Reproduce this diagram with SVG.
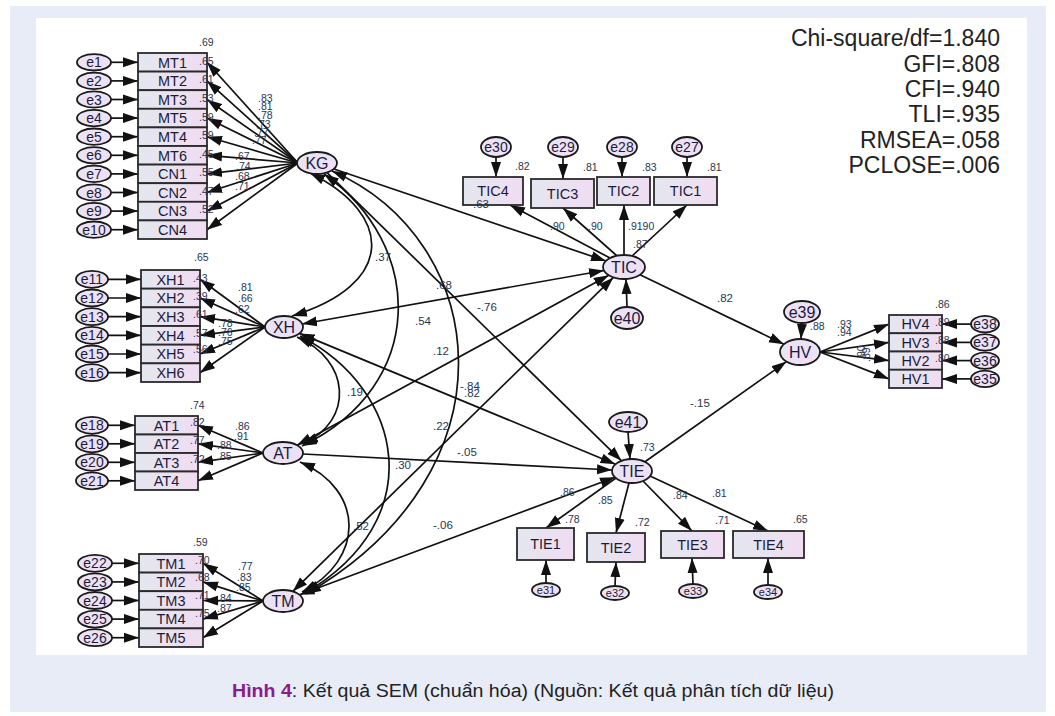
<svg xmlns="http://www.w3.org/2000/svg" width="1055" height="716" viewBox="0 0 1055 716">
<defs>
<linearGradient id="gb" x1="0" y1="0" x2="1" y2="0"><stop offset="0" stop-color="#e4e7ef"/><stop offset="1" stop-color="#f0dcf2"/></linearGradient>
<linearGradient id="ge" x1="0" y1="0" x2="1" y2="1"><stop offset="0" stop-color="#e8e4f4"/><stop offset="1" stop-color="#f1dff4"/></linearGradient>
<marker id="ah" markerUnits="userSpaceOnUse" markerWidth="16" markerHeight="11" refX="15" refY="5.5" orient="auto-start-reverse"><path d="M0,0.5 L15,5.5 L0,10.5 z" fill="#111"/></marker>
<style>
.bx{fill:url(#gb);stroke:#2a2a2a;stroke-width:1.8}
.el{fill:url(#ge);stroke:#1a1a1a;stroke-width:1.8}
.a{stroke:#111;stroke-width:1.7;fill:none;marker-end:url(#ah)}
.d{stroke:#111;stroke-width:1.7;fill:none;marker-start:url(#ah);marker-end:url(#ah)}
text{font-family:"Liberation Sans",Arial,sans-serif}
.t{fill:#1c1c3a;text-anchor:middle;font-size:14.5px}
.lt{fill:#1c1c3a;text-anchor:middle;font-size:16px}
.et{fill:#1c1c3a;text-anchor:middle;font-size:14px}
.es{fill:#1c1c3a;text-anchor:middle;font-size:11px}
.n{fill:#2a3550;font-size:10.5px}
.p{fill:#2a3550;font-size:11.5px}
.fit{fill:#222;font-size:23px;text-anchor:end}
</style>
</defs>
<rect width="1055" height="716" fill="#fff"/>
<rect x="10" y="6" width="1036" height="706" fill="#e8ecf7"/>
<rect x="36" y="18" width="991" height="637" fill="#fff"/>

<g id="connectors">
<line class="a" x1="111" y1="62.3" x2="138" y2="62.3"/>
<line class="a" x1="111" y1="80.9" x2="138" y2="80.9"/>
<line class="a" x1="111" y1="99.5" x2="138" y2="99.5"/>
<line class="a" x1="111" y1="118.1" x2="138" y2="118.1"/>
<line class="a" x1="111" y1="136.7" x2="138" y2="136.7"/>
<line class="a" x1="111" y1="155.3" x2="138" y2="155.3"/>
<line class="a" x1="111" y1="173.9" x2="138" y2="173.9"/>
<line class="a" x1="111" y1="192.5" x2="138" y2="192.5"/>
<line class="a" x1="111" y1="211.1" x2="138" y2="211.1"/>
<line class="a" x1="111" y1="229.7" x2="138" y2="229.7"/>
<line class="a" x1="298" y1="163" x2="207" y2="62.3"/>
<line class="a" x1="298" y1="163" x2="207" y2="80.9"/>
<line class="a" x1="298" y1="163" x2="207" y2="99.5"/>
<line class="a" x1="298" y1="163" x2="207" y2="118.1"/>
<line class="a" x1="298" y1="163" x2="207" y2="136.7"/>
<line class="a" x1="298" y1="163" x2="207" y2="155.3"/>
<line class="a" x1="298" y1="163" x2="207" y2="173.9"/>
<line class="a" x1="298" y1="163" x2="207" y2="192.5"/>
<line class="a" x1="298" y1="163" x2="207" y2="211.1"/>
<line class="a" x1="298" y1="163" x2="207" y2="229.7"/>
<line class="a" x1="108" y1="279.3" x2="141" y2="279.3"/>
<line class="a" x1="108" y1="298" x2="141" y2="298"/>
<line class="a" x1="108" y1="316.7" x2="141" y2="316.7"/>
<line class="a" x1="108" y1="335.3" x2="141" y2="335.3"/>
<line class="a" x1="108" y1="354" x2="141" y2="354"/>
<line class="a" x1="108" y1="372.7" x2="141" y2="372.7"/>
<line class="a" x1="265" y1="327" x2="200" y2="279.3"/>
<line class="a" x1="265" y1="327" x2="200" y2="298"/>
<line class="a" x1="265" y1="327" x2="200" y2="316.7"/>
<line class="a" x1="265" y1="327" x2="200" y2="335.3"/>
<line class="a" x1="265" y1="327" x2="200" y2="354"/>
<line class="a" x1="265" y1="327" x2="200" y2="372.7"/>
<line class="a" x1="108" y1="425.3" x2="135" y2="425.3"/>
<line class="a" x1="108" y1="443.8" x2="135" y2="443.8"/>
<line class="a" x1="108" y1="462.3" x2="135" y2="462.3"/>
<line class="a" x1="108" y1="480.8" x2="135" y2="480.8"/>
<line class="a" x1="263" y1="453" x2="198" y2="425.3"/>
<line class="a" x1="263" y1="453" x2="198" y2="443.8"/>
<line class="a" x1="263" y1="453" x2="198" y2="462.3"/>
<line class="a" x1="263" y1="453" x2="198" y2="480.8"/>
<line class="a" x1="112" y1="563.3" x2="139" y2="563.3"/>
<line class="a" x1="112" y1="581.9" x2="139" y2="581.9"/>
<line class="a" x1="112" y1="600.5" x2="139" y2="600.5"/>
<line class="a" x1="112" y1="619.1" x2="139" y2="619.1"/>
<line class="a" x1="112" y1="637.7" x2="139" y2="637.7"/>
<line class="a" x1="263" y1="601" x2="203" y2="563.3"/>
<line class="a" x1="263" y1="601" x2="203" y2="581.9"/>
<line class="a" x1="263" y1="601" x2="203" y2="600.5"/>
<line class="a" x1="263" y1="601" x2="203" y2="619.1"/>
<line class="a" x1="263" y1="601" x2="203" y2="637.7"/>
<line class="a" x1="496" y1="157" x2="496" y2="177"/>
<line class="a" x1="563" y1="157" x2="563" y2="179"/>
<line class="a" x1="622" y1="157" x2="622" y2="177"/>
<line class="a" x1="687" y1="157" x2="687" y2="177"/>
<line class="a" x1="610" y1="258" x2="510" y2="205"/>
<line class="a" x1="617" y1="256" x2="563" y2="208"/>
<line class="a" x1="624" y1="255" x2="624" y2="205"/>
<line class="a" x1="632" y1="256" x2="687" y2="205"/>
<line class="a" x1="627" y1="307" x2="626" y2="279"/>
<line class="a" x1="971" y1="324.1" x2="942" y2="324.1"/>
<line class="a" x1="971" y1="342.4" x2="942" y2="342.4"/>
<line class="a" x1="971" y1="360.6" x2="942" y2="360.6"/>
<line class="a" x1="971" y1="378.9" x2="942" y2="378.9"/>
<line class="a" x1="820" y1="352" x2="889" y2="324.1"/>
<line class="a" x1="820" y1="352" x2="889" y2="342.4"/>
<line class="a" x1="820" y1="352" x2="889" y2="360.6"/>
<line class="a" x1="820" y1="352" x2="889" y2="378.9"/>
<line class="a" x1="802" y1="323" x2="801" y2="339"/>
<line class="a" x1="546" y1="583" x2="546" y2="560"/>
<line class="a" x1="615" y1="586" x2="616" y2="562"/>
<line class="a" x1="693" y1="584" x2="692" y2="558"/>
<line class="a" x1="768" y1="585" x2="768" y2="558"/>
<line class="a" x1="616" y1="478" x2="546" y2="528"/>
<line class="a" x1="629" y1="483" x2="616" y2="533"/>
<line class="a" x1="643" y1="481" x2="692" y2="531"/>
<line class="a" x1="650" y1="476" x2="768" y2="531"/>
<line class="a" x1="628" y1="432" x2="630" y2="459"/>
<path class="d" d="M310,173 C395,215 395,285 292,316"/>
<path class="d" d="M324,174 C425,245 428,385 302,446"/>
<path class="d" d="M332,171 C490,240 520,470 306,594"/>
<path class="d" d="M297,337 C350,360 355,420 303,444"/>
<path class="d" d="M300,336 C405,390 430,520 305,593"/>
<path class="d" d="M300,462 C365,490 365,560 302,592"/>
<line class="a" x1="334" y1="169" x2="606" y2="261"/>
<line class="a" x1="327" y1="172.6" x2="621.5" y2="460.8"/>
<line class="d" x1="302" y1="324" x2="604" y2="270.5"/>
<line class="d" x1="299.5" y1="333.4" x2="615.5" y2="464.2"/>
<line class="d" x1="297" y1="445.3" x2="608.8" y2="275.3"/>
<line class="a" x1="303" y1="454" x2="612" y2="470"/>
<line class="d" x1="292.8" y1="591.4" x2="613.4" y2="277.4"/>
<line class="d" x1="299.6" y1="594.8" x2="615" y2="477.3"/>
<line class="a" x1="640" y1="274.7" x2="784" y2="344.2"/>
<line class="a" x1="645" y1="461.8" x2="786.5" y2="361.6"/>
</g>

<g id="KG-indicators">
<rect class="bx" x="138" y="53" width="69" height="18.6"/><text class="t" x="172.5" y="67.5">MT1</text>
<rect class="bx" x="138" y="71.6" width="69" height="18.6"/><text class="t" x="172.5" y="86.1">MT2</text>
<rect class="bx" x="138" y="90.2" width="69" height="18.6"/><text class="t" x="172.5" y="104.7">MT3</text>
<rect class="bx" x="138" y="108.8" width="69" height="18.6"/><text class="t" x="172.5" y="123.3">MT5</text>
<rect class="bx" x="138" y="127.4" width="69" height="18.6"/><text class="t" x="172.5" y="141.9">MT4</text>
<rect class="bx" x="138" y="146" width="69" height="18.6"/><text class="t" x="172.5" y="160.5">MT6</text>
<rect class="bx" x="138" y="164.6" width="69" height="18.6"/><text class="t" x="172.5" y="179.1">CN1</text>
<rect class="bx" x="138" y="183.2" width="69" height="18.6"/><text class="t" x="172.5" y="197.7">CN2</text>
<rect class="bx" x="138" y="201.8" width="69" height="18.6"/><text class="t" x="172.5" y="216.3">CN3</text>
<rect class="bx" x="138" y="220.4" width="69" height="18.6"/><text class="t" x="172.5" y="234.9">CN4</text>
<ellipse class="el" cx="94" cy="62.3" rx="17" ry="8.2"/><text class="et" x="94" y="67.3">e1</text>
<ellipse class="el" cx="94" cy="80.9" rx="17" ry="8.2"/><text class="et" x="94" y="85.9">e2</text>
<ellipse class="el" cx="94" cy="99.5" rx="17" ry="8.2"/><text class="et" x="94" y="104.5">e3</text>
<ellipse class="el" cx="94" cy="118.1" rx="17" ry="8.2"/><text class="et" x="94" y="123.1">e4</text>
<ellipse class="el" cx="94" cy="136.7" rx="17" ry="8.2"/><text class="et" x="94" y="141.7">e5</text>
<ellipse class="el" cx="94" cy="155.3" rx="17" ry="8.2"/><text class="et" x="94" y="160.3">e6</text>
<ellipse class="el" cx="94" cy="173.9" rx="17" ry="8.2"/><text class="et" x="94" y="178.9">e7</text>
<ellipse class="el" cx="94" cy="192.5" rx="17" ry="8.2"/><text class="et" x="94" y="197.5">e8</text>
<ellipse class="el" cx="94" cy="211.1" rx="17" ry="8.2"/><text class="et" x="94" y="216.1">e9</text>
<ellipse class="el" cx="94" cy="229.7" rx="17" ry="8.2"/><text class="et" x="94" y="234.7">e10</text>
</g>
<g id="KG"><ellipse class="el" cx="317" cy="163" rx="20" ry="11"/><text class="lt" x="317" y="168.5">KG</text></g>

<g id="XH-indicators">
<rect class="bx" x="141" y="270" width="59" height="18.67"/><text class="t" x="170.5" y="284.5">XH1</text>
<rect class="bx" x="141" y="288.67" width="59" height="18.67"/><text class="t" x="170.5" y="303.2">XH2</text>
<rect class="bx" x="141" y="307.33" width="59" height="18.67"/><text class="t" x="170.5" y="321.9">XH3</text>
<rect class="bx" x="141" y="326" width="59" height="18.67"/><text class="t" x="170.5" y="340.5">XH4</text>
<rect class="bx" x="141" y="344.67" width="59" height="18.67"/><text class="t" x="170.5" y="359.2">XH5</text>
<rect class="bx" x="141" y="363.33" width="59" height="18.67"/><text class="t" x="170.5" y="377.9">XH6</text>
<ellipse class="el" cx="92" cy="279.3" rx="16" ry="8.5"/><text class="et" x="92" y="284.3">e11</text>
<ellipse class="el" cx="92" cy="298" rx="16" ry="8.5"/><text class="et" x="92" y="303">e12</text>
<ellipse class="el" cx="92" cy="316.7" rx="16" ry="8.5"/><text class="et" x="92" y="321.7">e13</text>
<ellipse class="el" cx="92" cy="335.3" rx="16" ry="8.5"/><text class="et" x="92" y="340.3">e14</text>
<ellipse class="el" cx="92" cy="354" rx="16" ry="8.5"/><text class="et" x="92" y="359">e15</text>
<ellipse class="el" cx="92" cy="372.7" rx="16" ry="8.5"/><text class="et" x="92" y="377.7">e16</text>
</g>
<g id="XH"><ellipse class="el" cx="284" cy="327" rx="19" ry="11"/><text class="lt" x="284" y="332.5">XH</text></g>

<g id="AT-indicators">
<rect class="bx" x="135" y="416" width="63" height="18.5"/><text class="t" x="166.5" y="430.5">AT1</text>
<rect class="bx" x="135" y="434.5" width="63" height="18.5"/><text class="t" x="166.5" y="449">AT2</text>
<rect class="bx" x="135" y="453" width="63" height="18.5"/><text class="t" x="166.5" y="467.5">AT3</text>
<rect class="bx" x="135" y="471.5" width="63" height="18.5"/><text class="t" x="166.5" y="486">AT4</text>
<ellipse class="el" cx="92" cy="425.3" rx="16" ry="8.5"/><text class="et" x="92" y="430.3">e18</text>
<ellipse class="el" cx="92" cy="443.8" rx="16" ry="8.5"/><text class="et" x="92" y="448.8">e19</text>
<ellipse class="el" cx="92" cy="462.3" rx="16" ry="8.5"/><text class="et" x="92" y="467.3">e20</text>
<ellipse class="el" cx="92" cy="480.8" rx="16" ry="8.5"/><text class="et" x="92" y="485.8">e21</text>
</g>
<g id="AT"><ellipse class="el" cx="283" cy="453" rx="20" ry="11"/><text class="lt" x="283" y="458.5">AT</text></g>

<g id="TM-indicators">
<rect class="bx" x="139" y="554" width="64" height="18.6"/><text class="t" x="171" y="568.5">TM1</text>
<rect class="bx" x="139" y="572.6" width="64" height="18.6"/><text class="t" x="171" y="587.1">TM2</text>
<rect class="bx" x="139" y="591.2" width="64" height="18.6"/><text class="t" x="171" y="605.7">TM3</text>
<rect class="bx" x="139" y="609.8" width="64" height="18.6"/><text class="t" x="171" y="624.3">TM4</text>
<rect class="bx" x="139" y="628.4" width="64" height="18.6"/><text class="t" x="171" y="642.9">TM5</text>
<ellipse class="el" cx="95" cy="563.3" rx="17" ry="8.5"/><text class="et" x="95" y="568.3">e22</text>
<ellipse class="el" cx="95" cy="581.9" rx="17" ry="8.5"/><text class="et" x="95" y="586.9">e23</text>
<ellipse class="el" cx="95" cy="600.5" rx="17" ry="8.5"/><text class="et" x="95" y="605.5">e24</text>
<ellipse class="el" cx="95" cy="619.1" rx="17" ry="8.5"/><text class="et" x="95" y="624.1">e25</text>
<ellipse class="el" cx="95" cy="637.7" rx="17" ry="8.5"/><text class="et" x="95" y="642.7">e26</text>
</g>
<g id="TM"><ellipse class="el" cx="283" cy="601" rx="20" ry="11"/><text class="lt" x="283" y="606.5">TM</text></g>

<g id="TIC-indicators">
<rect class="bx" x="463" y="177" width="60" height="28"/><text class="t" x="493" y="196">TIC4</text>
<rect class="bx" x="531" y="179" width="63" height="29"/><text class="t" x="562.5" y="198.5">TIC3</text>
<rect class="bx" x="597" y="177" width="53" height="28"/><text class="t" x="623.5" y="196">TIC2</text>
<rect class="bx" x="654" y="177" width="63" height="28"/><text class="t" x="685.5" y="196">TIC1</text>
<ellipse class="el" cx="496" cy="147" rx="15" ry="10"/><text class="et" x="496" y="152">e30</text>
<ellipse class="el" cx="563" cy="147" rx="15" ry="10"/><text class="et" x="563" y="152">e29</text>
<ellipse class="el" cx="622" cy="147" rx="15" ry="10"/><text class="et" x="622" y="152">e28</text>
<ellipse class="el" cx="687" cy="147" rx="15" ry="10"/><text class="et" x="687" y="152">e27</text>
</g>
<g id="TIC"><ellipse class="el" cx="624" cy="267" rx="21" ry="12"/><text class="lt" x="624" y="272.5">TIC</text></g>
<g id="e40"><ellipse class="el" cx="627" cy="318" rx="16" ry="11"/><text class="lt" x="627" y="323.5">e40</text></g>

<g id="HV-indicators">
<rect class="bx" x="889" y="315" width="53" height="18.25"/><text class="t" x="915.5" y="329.3">HV4</text>
<rect class="bx" x="889" y="333.25" width="53" height="18.25"/><text class="t" x="915.5" y="347.6">HV3</text>
<rect class="bx" x="889" y="351.5" width="53" height="18.25"/><text class="t" x="915.5" y="365.8">HV2</text>
<rect class="bx" x="889" y="369.75" width="53" height="18.25"/><text class="t" x="915.5" y="384.1">HV1</text>
<ellipse class="el" cx="985" cy="324.1" rx="14" ry="8.3"/><text class="et" x="985" y="329.1">e38</text>
<ellipse class="el" cx="985" cy="342.4" rx="14" ry="8.3"/><text class="et" x="985" y="347.4">e37</text>
<ellipse class="el" cx="985" cy="360.6" rx="14" ry="8.3"/><text class="et" x="985" y="365.6">e36</text>
<ellipse class="el" cx="985" cy="378.9" rx="14" ry="8.3"/><text class="et" x="985" y="383.9">e35</text>
</g>
<g id="HV"><ellipse class="el" cx="800" cy="352" rx="20" ry="13"/><text class="lt" x="800" y="357.5">HV</text></g>
<g id="e39"><ellipse class="el" cx="802" cy="312" rx="18" ry="11"/><text class="lt" x="802" y="317.5">e39</text></g>

<g id="TIE-indicators">
<rect class="bx" x="517" y="528" width="57" height="32"/><text class="t" x="545.5" y="549">TIE1</text>
<rect class="bx" x="587" y="533" width="58" height="29"/><text class="t" x="616" y="552.5">TIE2</text>
<rect class="bx" x="661" y="531" width="63" height="27"/><text class="t" x="692.5" y="549.5">TIE3</text>
<rect class="bx" x="733" y="531" width="71" height="27"/><text class="t" x="768.5" y="549.5">TIE4</text>
<ellipse class="el" cx="546" cy="590" rx="14" ry="7"/><text class="es" x="546" y="594">e31</text>
<ellipse class="el" cx="615" cy="593" rx="14" ry="7"/><text class="es" x="615" y="597">e32</text>
<ellipse class="el" cx="693" cy="591" rx="14" ry="7"/><text class="es" x="693" y="595">e33</text>
<ellipse class="el" cx="768" cy="592" rx="14" ry="7"/><text class="es" x="768" y="596">e34</text>
</g>
<g id="TIE"><ellipse class="el" cx="632" cy="471" rx="20" ry="12"/><text class="lt" x="632" y="476.5">TIE</text></g>
<g id="e41"><ellipse class="el" cx="628" cy="422" rx="19" ry="10"/><text class="lt" x="628" y="427.5">e41</text></g>

<g id="coefficients">
<text class="n" x="199" y="46">.69</text>
<text class="n" x="199" y="65">.65</text>
<text class="n" x="199" y="83">.61</text>
<text class="n" x="199" y="102">.53</text>
<text class="n" x="199" y="121">.59</text>
<text class="n" x="199" y="139">.59</text>
<text class="n" x="199" y="158">.45</text>
<text class="n" x="199" y="176">.55</text>
<text class="n" x="199" y="195">.47</text>
<text class="n" x="199" y="213">.52</text>
<text class="n" x="258" y="102">.83</text>
<text class="n" x="258" y="110">.81</text>
<text class="n" x="258" y="119">.78</text>
<text class="n" x="256" y="128">.73</text>
<text class="n" x="254" y="136">.77</text>
<text class="n" x="252" y="144">.77</text>
<text class="n" x="235" y="160">.67</text>
<text class="n" x="236" y="170">.74</text>
<text class="n" x="235" y="180">.68</text>
<text class="n" x="235" y="190">.71</text>

<text class="n" x="194" y="261">.65</text>
<text class="n" x="193" y="282">.43</text>
<text class="n" x="193" y="300">.39</text>
<text class="n" x="193" y="318">.61</text>
<text class="n" x="193" y="337">.57</text>
<text class="n" x="193" y="353">.56</text>
<text class="n" x="238" y="291">.81</text>
<text class="n" x="238" y="302">.66</text>
<text class="n" x="235" y="313">.62</text>
<text class="n" x="218" y="327">.78</text>
<text class="n" x="218" y="336">.76</text>
<text class="n" x="218" y="345">.75</text>

<text class="n" x="190" y="409">.74</text>
<text class="n" x="190" y="426">.82</text>
<text class="n" x="190" y="444">.77</text>
<text class="n" x="190" y="463">.72</text>
<text class="n" x="235" y="430">.86</text>
<text class="n" x="234" y="440">.91</text>
<text class="n" x="217" y="449">.88</text>
<text class="n" x="217" y="460">.85</text>

<text class="n" x="193" y="546">.59</text>
<text class="n" x="195" y="564">.70</text>
<text class="n" x="195" y="581">.68</text>
<text class="n" x="195" y="599">.71</text>
<text class="n" x="195" y="617">.75</text>
<text class="n" x="238" y="570">.77</text>
<text class="n" x="237" y="581">.83</text>
<text class="n" x="236" y="591">.85</text>
<text class="n" x="217" y="602">.84</text>
<text class="n" x="217" y="612">.87</text>

<text class="n" x="515" y="170">.82</text>
<text class="n" x="583" y="171">.81</text>
<text class="n" x="642" y="171">.83</text>
<text class="n" x="707" y="171">.81</text>
<text class="n" x="550" y="230">.90</text>
<text class="n" x="588" y="230">.90</text>
<text class="n" x="628" y="230">.9190</text>
<text class="n" x="633" y="248">.87</text>

<text class="n" x="935" y="308">.86</text>
<text class="n" x="935" y="326">.89</text>
<text class="n" x="935" y="344">.88</text>
<text class="n" x="935" y="362">.80</text>
<text class="n" x="810" y="330">.88</text>
<text class="n" x="837" y="328">.93</text>
<text class="n" x="837" y="336">.94</text>
<text class="n" transform="translate(865,360) rotate(-90)">.90</text>
<text class="n" transform="translate(870,362) rotate(-90)">.89</text>

<text class="n" x="640" y="451">.73</text>
<text class="n" x="560" y="496">.86</text>
<text class="n" x="565" y="523">.78</text>
<text class="n" x="598" y="504">.85</text>
<text class="n" x="635" y="526">.72</text>
<text class="n" x="673" y="499">.84</text>
<text class="n" x="715" y="524">.71</text>
<text class="n" x="712" y="497">.81</text>
<text class="n" x="793" y="523">.65</text>

<text class="p" x="473" y="208">.63</text>
<text class="p" x="375" y="261">.37</text>
<text class="p" x="436" y="289">.68</text>
<text class="p" x="477" y="311">-.76</text>
<text class="p" x="415" y="325">.54</text>
<text class="p" x="433" y="355">.12</text>
<text class="p" x="347" y="396">.19</text>
<text class="p" x="460" y="390">-.84</text>
<text class="p" x="464" y="397">.82</text>
<text class="p" x="433" y="430">.22</text>
<text class="p" x="457" y="456">-.05</text>
<text class="p" x="395" y="469">.30</text>
<text class="p" x="353" y="530">.52</text>
<text class="p" x="433" y="529">-.06</text>
<text class="p" x="717" y="302">.82</text>
<text class="p" x="690" y="407">-.15</text>
</g>

<g id="fit-indices">
<text class="fit" x="1000" y="46">Chi-square/df=1.840</text>
<text class="fit" x="1000" y="72">GFI=.808</text>
<text class="fit" x="1000" y="97">CFI=.940</text>
<text class="fit" x="1000" y="122">TLI=.935</text>
<text class="fit" x="1000" y="148">RMSEA=.058</text>
<text class="fit" x="1000" y="173">PCLOSE=.006</text>
</g>

<text x="232" y="697" font-size="18" fill="#222" textLength="602" lengthAdjust="spacingAndGlyphs"><tspan font-weight="bold" fill="#8b1c8c">Hình 4</tspan>: Kết quả SEM (chuẩn hóa) (Nguồn: Kết quả phân tích dữ liệu)</text>
</svg>
